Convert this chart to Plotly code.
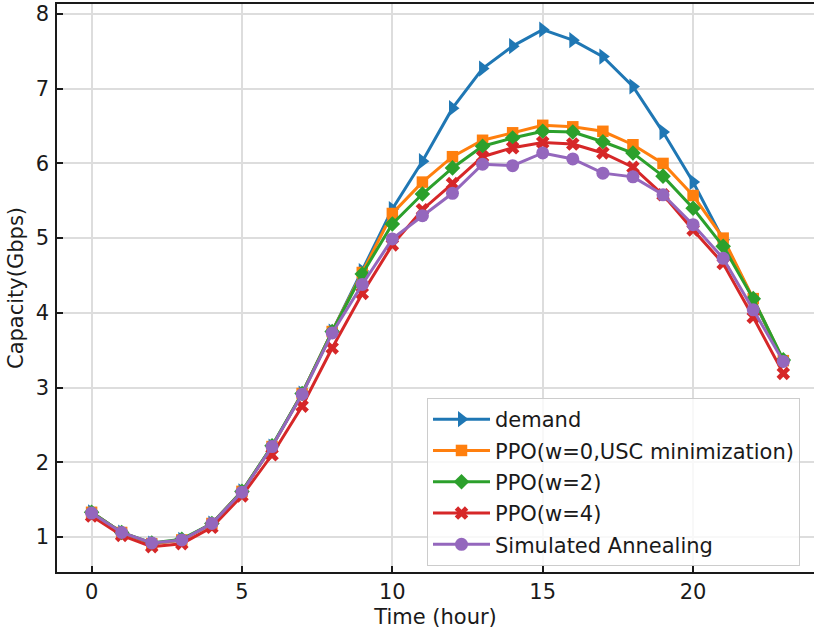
import plotly.graph_objects as go

hours = list(range(24))
demand = [1.33, 1.06, 0.91, 0.96, 1.18, 1.61, 2.21, 2.92, 3.75, 4.56,
          5.39, 6.03, 6.74, 7.27, 7.57, 7.79, 7.65, 7.43, 7.03, 6.42,
          5.75, 4.98, 4.18, 3.35]
ppo_w0 = [1.33, 1.06, 0.91, 0.96, 1.18, 1.61, 2.21, 2.92, 3.75, 4.54,
          5.33, 5.75, 6.09, 6.31, 6.41, 6.51, 6.49, 6.43, 6.25, 6.00,
          5.57, 5.00, 4.19, 3.36]
ppo_w2 = [1.33, 1.06, 0.92, 0.97, 1.18, 1.61, 2.22, 2.92, 3.75, 4.52,
          5.19, 5.59, 5.94, 6.23, 6.34, 6.43, 6.42, 6.29, 6.14, 5.83,
          5.40, 4.89, 4.19, 3.37]
ppo_w4 = [1.28, 1.02, 0.87, 0.91, 1.13, 1.55, 2.10, 2.75, 3.53, 4.26,
          4.91, 5.38, 5.73, 6.09, 6.21, 6.28, 6.26, 6.14, 5.95, 5.58,
          5.11, 4.66, 3.94, 3.19]
sim_anneal = [1.32, 1.06, 0.92, 0.96, 1.18, 1.60, 2.21, 2.91, 3.73, 4.38,
              4.99, 5.30, 5.60, 5.99, 5.97, 6.14, 6.06, 5.87, 5.82, 5.58,
              5.18, 4.73, 4.04, 3.35]

series = [
    ("demand", demand, "#1f77b4", "triangle-right", 14),
    ("PPO(w=0,USC minimization)", ppo_w0, "#ff7f0e", "square", 11.5),
    ("PPO(w=2)", ppo_w2, "#2ca02c", "diamond", 12),
    ("PPO(w=4)", ppo_w4, "#d62728", "x", 12),
    ("Simulated Annealing", sim_anneal, "#9467bd", "circle", 13),
]

FONT = "DejaVu Sans"
FS = 21
TXT = "#1a1a1a"
fig = go.Figure()
for i, (name, vals, color, sym, size) in enumerate(series):
    fig.add_trace(go.Scatter(
        x=hours, y=vals, name=name, mode="lines+markers",
        line=dict(color=color, width=3),
        marker=dict(symbol=sym, size=size, color=color, line=dict(width=0)),
        legendgroup=f"g{i}",
    ))

fig.update_layout(
    width=814, height=634,
    margin=dict(l=57, r=0, t=4, b=62),
    paper_bgcolor="white", plot_bgcolor="white",
    font=dict(family=FONT, size=FS, color=TXT),
    showlegend=True,
    legend=dict(
        x=(427 - 57) / 757, y=(572 - 398) / 568, xanchor="left", yanchor="top",
        bgcolor="rgba(255,255,255,0.8)", bordercolor="#cccccc", borderwidth=1,
        font=dict(family=FONT, size=FS, color=TXT),
        traceorder="grouped", tracegroupgap=1, itemwidth=57,
    ),
    xaxis=dict(
        range=[-1.15, 24.02], tickmode="array", tickvals=[0, 5, 10, 15, 20],
        ticks="inside", ticklen=6, tickwidth=1.5, tickcolor=TXT,
        showline=True, linecolor=TXT, linewidth=1.6, mirror=True,
        showgrid=True, gridcolor="#dddddd", gridwidth=1.6, zeroline=False,
        automargin=False,
        title=dict(text="Time (hour)", standoff=6, font=dict(size=FS)),
    ),
    yaxis=dict(
        range=[0.531, 8.134], tickmode="array", tickvals=[1, 2, 3, 4, 5, 6, 7, 8],
        ticks="inside", ticklen=6, tickwidth=1.5, tickcolor=TXT,
        showline=True, linecolor=TXT, linewidth=1.6, mirror=False,
        showgrid=True, gridcolor="#dddddd", gridwidth=1.6, zeroline=False,
        automargin=False, ticklabelstandoff=2,
        title=dict(text="Capacity(Gbps)", standoff=6, font=dict(size=FS)),
    ),
)

fig.write_html("out.html", config={"displayModeBar": False},
               post_script="document.body.style.margin='0';")
